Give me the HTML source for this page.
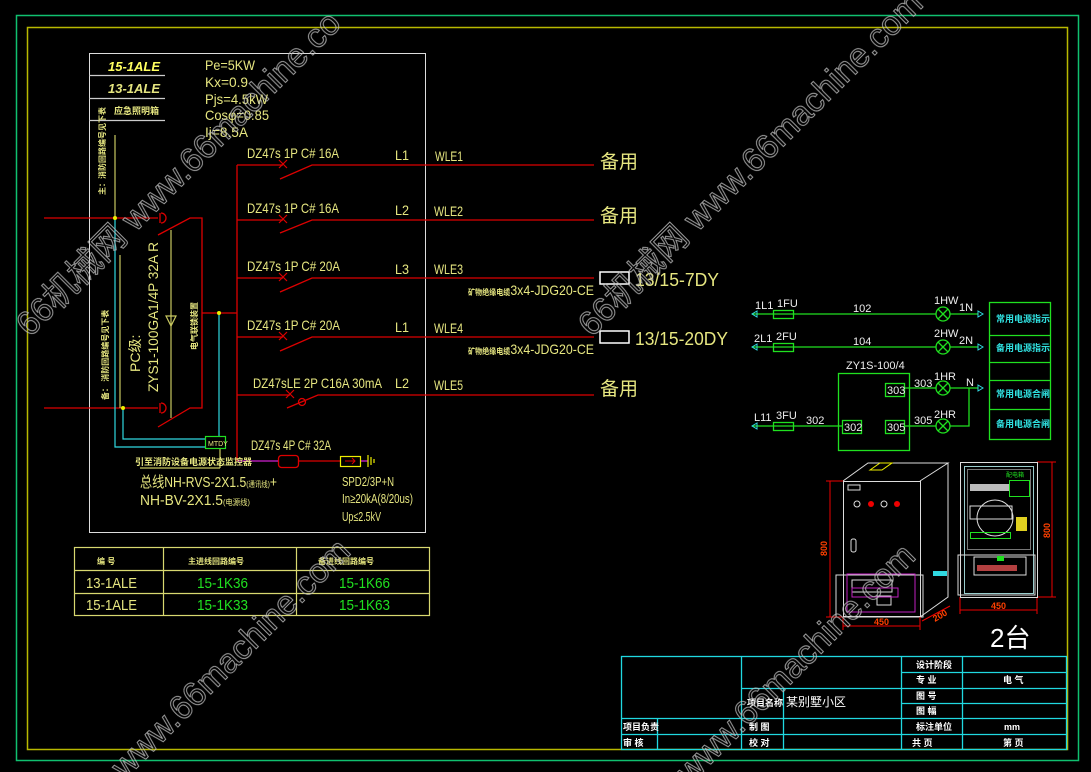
<!DOCTYPE html>
<html><head><meta charset="utf-8"><style>
html,body{margin:0;padding:0;background:#000;}
svg{display:block;}
text{font-family:"Liberation Sans","Noto Sans CJK SC",sans-serif;}
.y{fill:#e6e680;}
.c{fill:#30e0e0;}
.g{fill:#20e020;}
.w{fill:#fff;}
</style></head><body>
<svg width="1091" height="772" viewBox="0 0 1091 772" xmlns="http://www.w3.org/2000/svg">
<rect width="1091" height="772" fill="#000"/>
<rect x="16.5" y="15.5" width="1062" height="745" fill="none" stroke="#10c070" stroke-width="1.5"/>
<rect x="27.5" y="27.5" width="1040" height="722" fill="none" stroke="#b8b800" stroke-width="1.5"/>

<rect x="89.5" y="53.5" width="336" height="479" fill="none" stroke="#ddd" stroke-width="1"/>
<g stroke="#ccc" stroke-width="1.2"><line x1="89" y1="75.5" x2="165" y2="75.5"/><line x1="89" y1="98.5" x2="165" y2="98.5"/><line x1="89" y1="120.5" x2="165" y2="120.5"/></g>
<text x="108" y="71" font-size="13" font-weight="bold" font-style="italic" fill="#ffff60">15-1ALE</text>
<text x="108" y="93" class="y" font-size="13" font-weight="bold" font-style="italic">13-1ALE</text>
<text x="114" y="114" class="y" font-size="9" font-weight="bold">应急照明箱</text>
<g class="y" font-size="14" lengthAdjust="spacingAndGlyphs"><text x="205" y="70" textLength="50" lengthAdjust="spacingAndGlyphs">Pe=5KW</text><text x="205" y="87" textLength="43" lengthAdjust="spacingAndGlyphs">Kx=0.9</text><text x="205" y="104" textLength="63" lengthAdjust="spacingAndGlyphs">Pjs=4.5kW</text><text x="205" y="120" textLength="64" lengthAdjust="spacingAndGlyphs">Cosφ=0.85</text><text x="205" y="137" textLength="43" lengthAdjust="spacingAndGlyphs">Ij=8.5A</text></g>

<g stroke="#d00" stroke-width="1.3" fill="none">
<line x1="44" y1="218" x2="158" y2="218"/><line x1="44" y1="408" x2="158" y2="408"/>
<path d="M161 213 a5 5 0 0 1 0 10"/><line x1="160" y1="213" x2="160" y2="223"/>
<path d="M161 403 a5 5 0 0 1 0 10"/><line x1="160" y1="403" x2="160" y2="413"/>
<path d="M158 235 L190 218 L202 218 L202 408 L190 408 L158 427"/>
<line x1="202" y1="313" x2="237" y2="313"/>
<line x1="237" y1="165" x2="237" y2="461"/>
</g>
<g stroke="#c8c860" stroke-width="1.2" fill="none">
<line x1="115" y1="135" x2="115" y2="218"/><line x1="120" y1="255" x2="120" y2="408"/>
<line x1="171" y1="230" x2="171" y2="418"/><path d="M166 316 L176 316 L171 326 Z"/>
<line x1="220" y1="448" x2="220" y2="468"/><line x1="140" y1="468" x2="220" y2="468"/>
</g>
<g stroke="#30d8e0" stroke-width="1.2" fill="none">
<path d="M115 218 L115 447 L205 447"/><path d="M123 408 L123 439 L205 439"/><line x1="219" y1="313" x2="219" y2="436"/>
</g>
<rect x="205.5" y="436.5" width="20" height="12" fill="none" stroke="#20e020" stroke-width="1.2"/>
<text x="208" y="446" class="y" font-size="7">MTDY</text>
<circle cx="115" cy="218" r="2" fill="#ee0"/><circle cx="123" cy="408" r="2" fill="#ee0"/><circle cx="219" cy="313" r="2" fill="#ee0"/>
<text transform="translate(105,195) rotate(-90)" class="y" font-size="8" font-weight="bold">主：消防回路编号见下表</text>
<text transform="translate(108,400) rotate(-90)" class="y" font-size="8" font-weight="bold">备：  消防回路编号见下表</text>
<text transform="translate(140,372) rotate(-90)" class="y" font-size="14">PC级:</text>
<text transform="translate(158,392) rotate(-90)" class="y" font-size="14" textLength="150" lengthAdjust="spacingAndGlyphs">ZYS1-100GA1/4P 32A R</text>
<text transform="translate(197,350) rotate(-90)" class="y" font-size="8" font-weight="bold">电气联锁装置</text>

<g stroke="#d00" stroke-width="1.3" fill="none">
<line x1="237" y1="165" x2="283" y2="165"/><path d="M280 179 L312 165 L594 165"/>
<line x1="237" y1="220" x2="283" y2="220"/><path d="M280 233 L312 220 L594 220"/>
<line x1="237" y1="278" x2="283" y2="278"/><path d="M280 292 L312 278 L594 278"/>
<line x1="237" y1="337" x2="283" y2="337"/><path d="M280 351 L312 337 L594 337"/>
<line x1="237" y1="395" x2="290" y2="395"/><path d="M287 408 L318 395 L594 395"/>
<circle cx="302" cy="402" r="3.5"/>
<g stroke-width="1.2"><path d="M279 160 l8 8 M287 160 l-8 8"/><path d="M279 215 l8 8 M287 215 l-8 8"/><path d="M279 273 l8 8 M287 273 l-8 8"/><path d="M279 332 l8 8 M287 332 l-8 8"/><path d="M286 390 l8 8 M294 390 l-8 8"/></g>
<rect x="278.5" y="455.5" width="20" height="12" rx="3"/>
<line x1="298" y1="461" x2="340" y2="461"/>
</g>
<line x1="237" y1="461" x2="278" y2="461" stroke="#d020d0" stroke-width="1.3"/>
<line x1="360" y1="461" x2="368" y2="461" stroke="#d020d0" stroke-width="1.3"/>
<rect x="340.5" y="456.5" width="20" height="10" fill="none" stroke="#ee0" stroke-width="1.2"/>
<path d="M345 461 L355 461 M352 458 L355 461 L352 464" stroke="#d00" fill="none"/>
<g stroke="#ee0" stroke-width="1.2"><line x1="368" y1="455" x2="368" y2="467"/><line x1="371" y1="457" x2="371" y2="465"/><line x1="374" y1="459" x2="374" y2="463"/></g>
<g class="y" font-size="14">
<text x="247" y="158" textLength="92" lengthAdjust="spacingAndGlyphs">DZ47s 1P C# 16A</text><text x="247" y="213" textLength="92" lengthAdjust="spacingAndGlyphs">DZ47s 1P C# 16A</text><text x="247" y="271" textLength="93" lengthAdjust="spacingAndGlyphs">DZ47s 1P C# 20A</text><text x="247" y="330" textLength="93" lengthAdjust="spacingAndGlyphs">DZ47s 1P C# 20A</text><text x="253" y="388" textLength="129" lengthAdjust="spacingAndGlyphs">DZ47sLE 2P C16A 30mA</text><text x="251" y="450" textLength="80" lengthAdjust="spacingAndGlyphs">DZ47s 4P C# 32A</text>
<text x="395" y="160" textLength="14" lengthAdjust="spacingAndGlyphs">L1</text><text x="395" y="215" textLength="14" lengthAdjust="spacingAndGlyphs">L2</text><text x="395" y="274" textLength="14" lengthAdjust="spacingAndGlyphs">L3</text><text x="395" y="332" textLength="14" lengthAdjust="spacingAndGlyphs">L1</text><text x="395" y="388" textLength="14" lengthAdjust="spacingAndGlyphs">L2</text>
<text x="435" y="161" textLength="28" lengthAdjust="spacingAndGlyphs">WLE1</text><text x="434" y="216" textLength="29" lengthAdjust="spacingAndGlyphs">WLE2</text><text x="434" y="274" textLength="29" lengthAdjust="spacingAndGlyphs">WLE3</text><text x="434" y="333" textLength="29" lengthAdjust="spacingAndGlyphs">WLE4</text><text x="434" y="390" textLength="29" lengthAdjust="spacingAndGlyphs">WLE5</text>
</g>
<text x="135" y="465" class="y" font-size="9" font-weight="bold">引至消防设备电源状态监控器</text>
<text x="140" y="487" class="y" font-size="15" textLength="137" lengthAdjust="spacingAndGlyphs">总线NH-RVS-2X1.5<tspan font-size="8">(通讯线)</tspan>+</text>
<text x="140" y="505" class="y" font-size="15" textLength="110" lengthAdjust="spacingAndGlyphs">NH-BV-2X1.5<tspan font-size="8">(电源线)</tspan></text>
<g class="y" font-size="13"><text x="342" y="486" textLength="52" lengthAdjust="spacingAndGlyphs">SPD2/3P+N</text><text x="342" y="503" textLength="71" lengthAdjust="spacingAndGlyphs">In≥20kA(8/20us)</text><text x="342" y="521" textLength="39" lengthAdjust="spacingAndGlyphs">Up≤2.5kV</text></g>

<g class="y" font-size="19"><text x="600" y="168">备用</text><text x="600" y="222">备用</text><text x="600" y="395">备用</text>
<text x="635" y="286" font-size="18" textLength="84" lengthAdjust="spacingAndGlyphs">13/15-7DY</text><text x="635" y="345" font-size="18" textLength="93" lengthAdjust="spacingAndGlyphs">13/15-20DY</text></g>
<rect x="600" y="272" width="29" height="12" fill="none" stroke="#fff" stroke-width="1.5"/>
<rect x="600" y="331" width="29" height="12" fill="none" stroke="#fff" stroke-width="1.5"/>
<text x="468" y="295" class="y" font-size="14" textLength="126" lengthAdjust="spacingAndGlyphs"><tspan font-size="8" font-weight="bold">矿物绝缘电缆</tspan>3x4-JDG20-CE</text>
<text x="468" y="354" class="y" font-size="14" textLength="126" lengthAdjust="spacingAndGlyphs"><tspan font-size="8" font-weight="bold">矿物绝缘电缆</tspan>3x4-JDG20-CE</text>

<g stroke="#d8d870" stroke-width="1.2" fill="none">
<rect x="74.5" y="547.5" width="355" height="68"/><line x1="74" y1="570.5" x2="429" y2="570.5"/><line x1="74" y1="593.5" x2="429" y2="593.5"/>
<line x1="163.5" y1="547" x2="163.5" y2="615"/><line x1="296.5" y1="547" x2="296.5" y2="615"/>
</g>
<g class="y" font-size="8" font-weight="bold"><text x="97" y="564">编   号</text><text x="188" y="564">主进线回路编号</text><text x="318" y="564">备进线回路编号</text></g>
<g font-size="15"><text x="86" y="588" class="y" textLength="51" lengthAdjust="spacingAndGlyphs">13-1ALE</text><text x="86" y="610" class="y" textLength="51" lengthAdjust="spacingAndGlyphs">15-1ALE</text>
<text x="197" y="588" class="g" textLength="51" lengthAdjust="spacingAndGlyphs">15-1K36</text><text x="197" y="610" class="g" textLength="51" lengthAdjust="spacingAndGlyphs">15-1K33</text><text x="339" y="588" class="g" textLength="51" lengthAdjust="spacingAndGlyphs">15-1K66</text><text x="339" y="610" class="g" textLength="51" lengthAdjust="spacingAndGlyphs">15-1K63</text></g>

<g stroke="#20e020" stroke-width="1.3" fill="none">
<line x1="752" y1="314" x2="936" y2="314"/><line x1="950" y1="314" x2="978" y2="314"/>
<line x1="752" y1="347" x2="936" y2="347"/><line x1="950" y1="347" x2="978" y2="347"/>
<line x1="752" y1="426" x2="842" y2="426"/>
<rect x="773.5" y="310.5" width="20" height="8"/><rect x="773.5" y="343.5" width="20" height="8"/><rect x="773.5" y="422.5" width="20" height="8"/>
<circle cx="943" cy="314" r="7"/><path d="M938 309 l10 10 M948 309 l-10 10"/>
<circle cx="943" cy="347" r="7"/><path d="M938 342 l10 10 M948 342 l-10 10"/>
<circle cx="943" cy="388" r="7"/><path d="M938 383 l10 10 M948 383 l-10 10"/>
<circle cx="943" cy="426" r="7"/><path d="M938 421 l10 10 M948 421 l-10 10"/>
<rect x="838.5" y="373.5" width="71" height="77"/>
<rect x="885.5" y="383.5" width="19" height="13"/><rect x="842.5" y="420.5" width="19" height="13"/><rect x="885.5" y="420.5" width="19" height="13"/>
<line x1="904" y1="388" x2="936" y2="388"/><line x1="904" y1="426" x2="936" y2="426"/>
<line x1="950" y1="388" x2="978" y2="388"/><path d="M950 426 L969 426 L969 388"/>
<rect x="989.5" y="302.5" width="61" height="137"/>
<line x1="989" y1="335.5" x2="1050" y2="335.5"/><line x1="989" y1="362.5" x2="1050" y2="362.5"/><line x1="989" y1="380.5" x2="1050" y2="380.5"/><line x1="989" y1="409.5" x2="1050" y2="409.5"/>
</g>
<g fill="none" stroke="#30d8e0"><path d="M757 311 L752 314 L757 317 Z M757 344 L752 347 L757 350 Z M757 423 L752 426 L757 429 Z M978 311 L983 314 L978 317 Z M978 344 L983 347 L978 350 Z M978 385 L983 388 L978 391 Z"/></g>
<g font-size="11" fill="#eee">
<text x="755" y="309">1L1</text><text x="777" y="307">1FU</text><text x="853" y="312">102</text><text x="934" y="304">1HW</text><text x="959" y="311">1N</text>
<text x="754" y="342">2L1</text><text x="776" y="340">2FU</text><text x="853" y="345">104</text><text x="934" y="337">2HW</text><text x="959" y="344">2N</text>
<text x="846" y="369">ZY1S-100/4</text><text x="887" y="394">303</text><text x="844" y="431">302</text><text x="887" y="431">305</text>
<text x="914" y="387">303</text><text x="934" y="380">1HR</text><text x="966" y="386">N</text>
<text x="914" y="424">305</text><text x="934" y="418">2HR</text>
<text x="754" y="421">L11</text><text x="776" y="419">3FU</text><text x="806" y="424">302</text>
</g>
<g class="c" font-size="9" font-weight="bold"><text x="996" y="322">常用电源指示</text><text x="996" y="351">备用电源指示</text><text x="996" y="397">常用电源合闸</text><text x="996" y="427">备用电源合闸</text></g>

<g stroke="#ddd" stroke-width="1" fill="none">
<rect x="843.5" y="481.5" width="77" height="135"/>
<path d="M843 481 L868 463 L948 463 L920 481 M948 463 L948 597 L920 617"/>
<path d="M870 470 L880 463 L892 463 L882 470 Z" stroke="#ee0"/>
<rect x="848" y="485" width="12" height="5"/>
<circle cx="857" cy="504" r="3"/><circle cx="871" cy="504" r="3" fill="#e00" stroke="none"/><circle cx="884" cy="504" r="3"/><circle cx="897" cy="504" r="3" fill="#e00" stroke="none"/>
<rect x="851" y="539" width="5" height="13" rx="2"/>
<rect x="836" y="575" width="87" height="42"/>
<rect x="852" y="580" width="40" height="12"/>
<rect x="877" y="596" width="14" height="9"/>
</g>
<rect x="847" y="574" width="68" height="38" fill="none" stroke="#c020c0"/>
<rect x="852" y="588" width="46" height="9" fill="none" stroke="#c020c0"/>
<rect x="933" y="571" width="14" height="5" fill="#30d8e0"/>
<g stroke="#e00" stroke-width="1" fill="none">
<line x1="830" y1="481" x2="830" y2="617"/><line x1="826" y1="481" x2="843" y2="481"/><line x1="826" y1="617" x2="843" y2="617"/>
<line x1="843" y1="626" x2="920" y2="626"/><line x1="843" y1="617" x2="843" y2="630"/><line x1="920" y1="617" x2="920" y2="630"/>
<line x1="922" y1="621" x2="950" y2="606"/>
<line x1="1052" y1="462" x2="1052" y2="597"/><line x1="1037" y1="462" x2="1056" y2="462"/><line x1="1037" y1="597" x2="1056" y2="597"/>
<line x1="960" y1="610" x2="1037" y2="610"/><line x1="960" y1="597" x2="960" y2="614"/><line x1="1037" y1="597" x2="1037" y2="614"/>
</g>
<g fill="#ff4000" font-size="9" font-weight="bold"><text x="874" y="625">450</text><text x="991" y="609">450</text>
<text transform="translate(827,556) rotate(-90)">800</text><text transform="translate(1050,538) rotate(-90)">800</text><text transform="translate(935,622) rotate(-30)">200</text></g>
<g stroke="#ddd" stroke-width="1" fill="none">
<rect x="960.5" y="462.5" width="77" height="135"/>
<rect x="964.5" y="466.5" width="69" height="127" stroke="#9cc"/>
<rect x="967.5" y="469.5" width="63" height="80" stroke="#777"/>
<circle cx="995" cy="518" r="18"/>
<rect x="970" y="484" width="40" height="7" fill="#bbb" stroke="none"/>
<rect x="970" y="506" width="42" height="13"/>
<rect x="958" y="555" width="77" height="40"/>
<rect x="974" y="557" width="52" height="18"/>
</g>
<rect x="1009.5" y="480.5" width="20" height="16" fill="none" stroke="#20e020"/>
<rect x="970.5" y="532.5" width="40" height="6" fill="none" stroke="#20e020"/>
<rect x="1016" y="517" width="11" height="14" fill="#e0d020"/>
<rect x="997" y="556" width="7" height="5" fill="#20e020"/>
<rect x="977" y="565" width="40" height="6" fill="#e05050" opacity="0.8"/>
<text x="1006" y="477" class="g" font-size="6">配电箱</text>
<text x="990" y="647" class="w" font-size="26" font-family="Liberation Serif,serif">2台</text>

<g stroke="#20d8e0" stroke-width="1.3" fill="none">
<rect x="621.5" y="656.5" width="445" height="93"/>
<line x1="741.5" y1="656" x2="741.5" y2="749"/><line x1="783.5" y1="688" x2="783.5" y2="749"/>
<line x1="901.5" y1="656" x2="901.5" y2="749"/><line x1="962.5" y1="656" x2="962.5" y2="749"/>
<line x1="741" y1="688.5" x2="901" y2="688.5"/>
<line x1="621" y1="718.5" x2="1066" y2="718.5"/><line x1="621" y1="734.5" x2="1066" y2="734.5"/>
<line x1="657.5" y1="718" x2="657.5" y2="749"/>
<line x1="901" y1="672.5" x2="1066" y2="672.5"/><line x1="901" y1="688.5" x2="1066" y2="688.5"/><line x1="901" y1="703.5" x2="1066" y2="703.5"/>
</g>
<g class="w" font-size="9" font-weight="bold">
<text x="747" y="706">项目名称</text><text x="786" y="706" font-size="12" font-weight="normal">某别墅小区</text>
<text x="623" y="730">项目负责</text><text x="623" y="746">审    核</text>
<text x="749" y="730">制     图</text><text x="749" y="746">校     对</text>
<text x="916" y="668">设计阶段</text><text x="916" y="683">专    业</text><text x="916" y="699">图    号</text><text x="916" y="714">图    幅</text><text x="916" y="730">标注单位</text><text x="912" y="746">共       页</text>
<text x="1003" y="683">电  气</text><text x="1004" y="730">mm</text><text x="1003" y="746">第   页</text>
</g>

<g fill="none" stroke="#bbb" stroke-width="1" font-size="34" opacity="0.85">
<text transform="translate(30,338) rotate(-45)">66机械网 www.66machine.co</text>
<text transform="translate(592,338) rotate(-45)">66机械网 www.66machine.com</text>
<text transform="translate(125,780) rotate(-45)">www.66machine.com</text>
<text transform="translate(690,785) rotate(-45)">www.66machine.com</text>
</g>
</svg>
</body></html>
